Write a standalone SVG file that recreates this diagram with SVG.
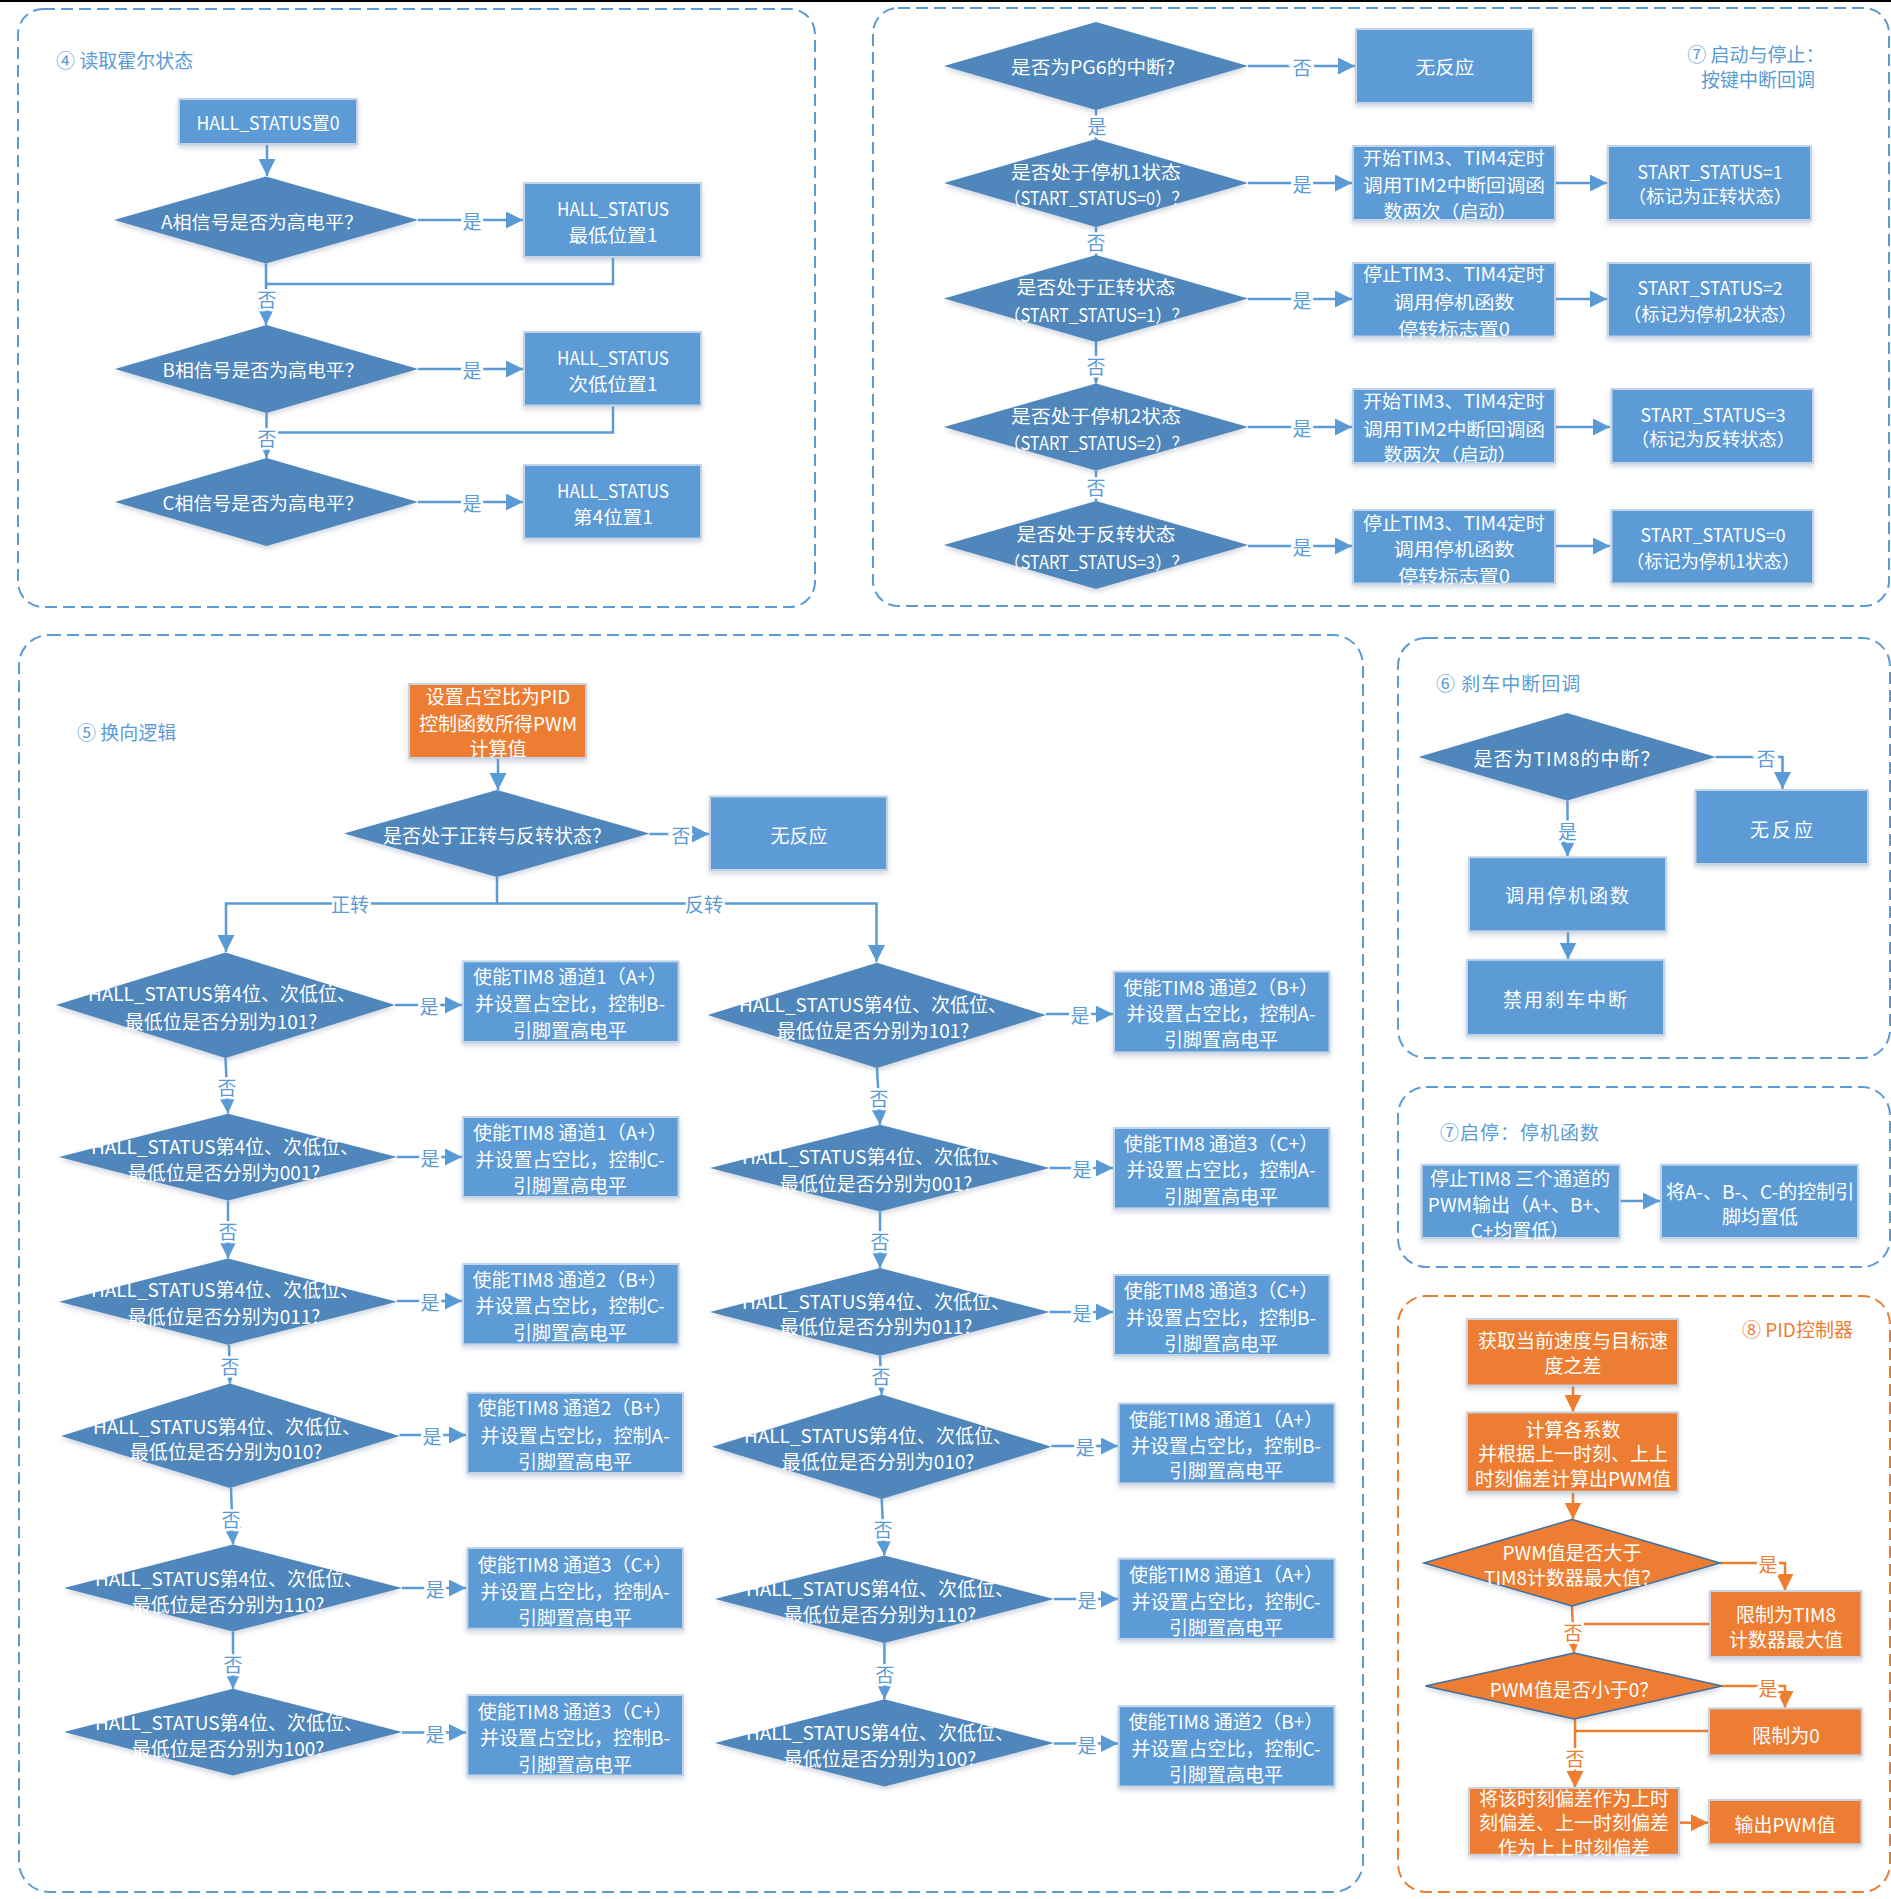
<svg xmlns="http://www.w3.org/2000/svg" width="1891" height="1899" viewBox="0 0 1891 1899">
<defs>
<filter id="sh" x="-10%" y="-10%" width="125%" height="140%">
<feDropShadow dx="0" dy="3" stdDeviation="2.5" flood-color="#7f8fa6" flood-opacity="0.35"/>
</filter>
<marker id="a" viewBox="0 0 10 10" refX="10" refY="5" markerWidth="17" markerHeight="17" markerUnits="userSpaceOnUse" orient="auto"><path d="M0,0 L10,5 L0,10 z" fill="#5B9BD5"/></marker>
<marker id="ao" viewBox="0 0 10 10" refX="10" refY="5" markerWidth="17" markerHeight="17" markerUnits="userSpaceOnUse" orient="auto"><path d="M0,0 L10,5 L0,10 z" fill="#ED7D31"/></marker>
</defs>
<style>
text{font-family:"Noto Sans CJK SC","Noto Sans",sans-serif;dominant-baseline:central}
.frame{fill:none;stroke:#5B9BD5;stroke-width:2;stroke-dasharray:12 6}
.frameO{fill:none;stroke:#ED7D31;stroke-width:2;stroke-dasharray:12 6}
.box{fill:#5B9BD5;stroke:#C3D4E9;stroke-width:2;filter:url(#sh)}
.obox{fill:#ED7D31;stroke:#C9D2DE;stroke-width:2;filter:url(#sh)}
.dia{fill:#4F86BB;filter:url(#sh)}
.odia{fill:#ED7D31;stroke:#3E6FA3;stroke-width:1.5;filter:url(#sh)}
.t{fill:#fff;font-size:19px;text-anchor:middle}
.c{fill:#fff;font-size:18px;text-anchor:middle}
.ttl{fill:#5B9BD5;font-size:19px}
.ottl{fill:#ED7D31;font-size:19px}
.ln{fill:none;stroke:#5B9BD5;stroke-width:2.5}
.oln{fill:none;stroke:#ED7D31;stroke-width:2.5}
.lbl{fill:#5B9BD5;font-size:19px;text-anchor:middle;stroke:#fff;stroke-width:5;paint-order:stroke}
.olbl{fill:#ED7D31;font-size:19px;text-anchor:middle;stroke:#fff;stroke-width:5;paint-order:stroke}
</style>
<rect x="0" y="0" width="1891" height="2" fill="#000"/>

<!-- frames -->
<g id="frames">
<rect class="frame" x="18" y="9" width="797" height="598" rx="25"/>
<rect class="frame" x="873" y="8" width="1016" height="598" rx="25"/>
<rect class="frame" x="19" y="635" width="1344" height="1257" rx="30"/>
<rect class="frame" x="1398" y="638" width="492" height="420" rx="28"/>
<rect class="frame" x="1398" y="1087" width="492" height="180" rx="28"/>
<rect class="frameO" x="1398" y="1296" width="492" height="596" rx="28"/>
<text class="ttl" x="56" y="59">④ 读取霍尔状态</text>
<text class="ttl" x="1756" y="53" text-anchor="middle">⑦ 启动与停止：</text>
<text class="ttl" x="1758" y="78" text-anchor="middle">按键中断回调</text>
<text class="ttl" x="77" y="731">⑤ 换向逻辑</text>
<text class="ttl" x="1436" y="682" letter-spacing="1">⑥ 刹车中断回调</text>
<text class="ttl" x="1440" y="1131" letter-spacing="1">⑦启停：停机函数</text>
<text class="ottl" x="1742" y="1328">⑧ PID控制器</text>
</g>

<!-- connectors -->
<g id="connectors">
<!-- panel 4 -->
<path class="ln" d="M267,144 V176" marker-end="url(#a)"/>
<path class="ln" d="M418,220 H523" marker-end="url(#a)"/>
<path class="ln" d="M613,257 V284 H267"/>
<path class="ln" d="M266,263.5 V325" marker-end="url(#a)"/>
<path class="ln" d="M418,369 H523" marker-end="url(#a)"/>
<path class="ln" d="M613,405.5 V432.5 H267"/>
<path class="ln" d="M266.5,413 V458" marker-end="url(#a)"/>
<path class="ln" d="M418,502 H523" marker-end="url(#a)"/>
<text class="lbl" x="472" y="220">是</text>
<text class="lbl" x="267" y="298">否</text>
<text class="lbl" x="472" y="369">是</text>
<text class="lbl" x="267" y="437">否</text>
<text class="lbl" x="472" y="502">是</text>
<!-- panel 7 -->
<path class="ln" d="M1248,66 H1355" marker-end="url(#a)"/>
<path class="ln" d="M1096,110 V139" marker-end="url(#a)"/>
<path class="ln" d="M1248,183 H1352" marker-end="url(#a)"/>
<path class="ln" d="M1555,183 H1607" marker-end="url(#a)"/>
<path class="ln" d="M1096,227 V255" marker-end="url(#a)"/>
<path class="ln" d="M1248,299 H1352" marker-end="url(#a)"/>
<path class="ln" d="M1555,299 H1607" marker-end="url(#a)"/>
<path class="ln" d="M1096,342 V383.5" marker-end="url(#a)"/>
<path class="ln" d="M1248,427 H1352" marker-end="url(#a)"/>
<path class="ln" d="M1555,427 H1610" marker-end="url(#a)"/>
<path class="ln" d="M1096,470.5 V501" marker-end="url(#a)"/>
<path class="ln" d="M1248,546 H1352" marker-end="url(#a)"/>
<path class="ln" d="M1555,546 H1610" marker-end="url(#a)"/>
<text class="lbl" x="1302" y="66">否</text>
<text class="lbl" x="1097" y="125">是</text>
<text class="lbl" x="1302" y="183">是</text>
<text class="lbl" x="1096" y="241">否</text>
<text class="lbl" x="1302" y="299">是</text>
<text class="lbl" x="1096" y="365">否</text>
<text class="lbl" x="1302" y="427">是</text>
<text class="lbl" x="1096" y="486">否</text>
<text class="lbl" x="1302" y="546">是</text>
<!-- panel 5 -->
<path class="ln" d="M498,758 V790" marker-end="url(#a)"/>
<path class="ln" d="M649.5,834 H709" marker-end="url(#a)"/>
<path class="ln" d="M497,877 V903.5 H226 V952" marker-end="url(#a)"/>
<path class="ln" d="M497,903.5 H876.5 V962" marker-end="url(#a)"/>
<path class="ln" d="M395,1005 H462" marker-end="url(#a)"/>
<path class="ln" d="M225.5,1058 L228,1113.5" marker-end="url(#a)"/>
<path class="ln" d="M397,1157 H462" marker-end="url(#a)"/>
<path class="ln" d="M228,1200.6 V1258.5" marker-end="url(#a)"/>
<path class="ln" d="M397,1301 H462" marker-end="url(#a)"/>
<path class="ln" d="M229,1344.8 L230,1383.5" marker-end="url(#a)"/>
<path class="ln" d="M399.5,1435 H466" marker-end="url(#a)"/>
<path class="ln" d="M231,1488 L233,1544.4" marker-end="url(#a)"/>
<path class="ln" d="M402,1588 H466" marker-end="url(#a)"/>
<path class="ln" d="M233,1631.6 V1688.7" marker-end="url(#a)"/>
<path class="ln" d="M402,1732.5 H466" marker-end="url(#a)"/>
<path class="ln" d="M1046,1014 H1113" marker-end="url(#a)"/>
<path class="ln" d="M877,1068 L880,1124.7" marker-end="url(#a)"/>
<path class="ln" d="M1049.6,1168 H1113" marker-end="url(#a)"/>
<path class="ln" d="M880,1211.6 V1268" marker-end="url(#a)"/>
<path class="ln" d="M1049.6,1312 H1113" marker-end="url(#a)"/>
<path class="ln" d="M880,1355.8 L881.7,1394.5" marker-end="url(#a)"/>
<path class="ln" d="M1051.4,1446 H1118" marker-end="url(#a)"/>
<path class="ln" d="M881.7,1499 L884.4,1555.4" marker-end="url(#a)"/>
<path class="ln" d="M1054,1599 H1118" marker-end="url(#a)"/>
<path class="ln" d="M884.4,1643 V1699.3" marker-end="url(#a)"/>
<path class="ln" d="M1054,1743.5 H1118" marker-end="url(#a)"/>
<text class="lbl" x="681" y="834">否</text>
<text class="lbl" x="350" y="903">正转</text>
<text class="lbl" x="704" y="903">反转</text>
<text class="lbl" x="429" y="1005">是</text>
<text class="lbl" x="227" y="1086">否</text>
<text class="lbl" x="430" y="1157">是</text>
<text class="lbl" x="228" y="1230">否</text>
<text class="lbl" x="430" y="1301">是</text>
<text class="lbl" x="230" y="1365">否</text>
<text class="lbl" x="432" y="1435">是</text>
<text class="lbl" x="231" y="1518">否</text>
<text class="lbl" x="435" y="1588">是</text>
<text class="lbl" x="233" y="1663">否</text>
<text class="lbl" x="435" y="1733">是</text>
<text class="lbl" x="1080" y="1014">是</text>
<text class="lbl" x="879" y="1097">否</text>
<text class="lbl" x="1082" y="1168">是</text>
<text class="lbl" x="880" y="1240">否</text>
<text class="lbl" x="1082" y="1312">是</text>
<text class="lbl" x="881" y="1375">否</text>
<text class="lbl" x="1085" y="1446">是</text>
<text class="lbl" x="883" y="1528">否</text>
<text class="lbl" x="1087" y="1599">是</text>
<text class="lbl" x="885" y="1673">否</text>
<text class="lbl" x="1087" y="1744">是</text>
<!-- panel 6 -->
<path class="ln" d="M1715.7,757 H1782.5 V789" marker-end="url(#a)"/>
<path class="ln" d="M1567.5,800.6 V856.5" marker-end="url(#a)"/>
<path class="ln" d="M1568,931.2 V959.5" marker-end="url(#a)"/>
<path class="ln" d="M1619.6,1201 H1660" marker-end="url(#a)"/>
<text class="lbl" x="1766" y="757">否</text>
<text class="lbl" x="1567.5" y="830">是</text>
<!-- panel 8 -->
<path class="oln" d="M1573,1385.5 V1412" marker-end="url(#ao)"/>
<path class="oln" d="M1573,1491.8 V1519.5" marker-end="url(#ao)"/>
<path class="oln" d="M1720,1563 H1785 V1591" marker-end="url(#ao)"/>
<path class="oln" d="M1710,1624 H1573"/>
<path class="oln" d="M1572,1606 L1574,1653" marker-end="url(#ao)"/>
<path class="oln" d="M1722,1686 H1785 V1708" marker-end="url(#ao)"/>
<path class="oln" d="M1709,1731 H1575"/>
<path class="oln" d="M1575,1719 V1788" marker-end="url(#ao)"/>
<path class="oln" d="M1679,1822.7 H1708" marker-end="url(#ao)"/>
<text class="olbl" x="1768" y="1563">是</text>
<text class="olbl" x="1573" y="1631">否</text>
<text class="olbl" x="1768" y="1687">是</text>
<text class="olbl" x="1575" y="1757">否</text>
</g>

<!-- panel 4 nodes -->
<g id="n4_start"><rect class="box" x="179" y="99" width="178" height="45"/><text class="c" x="268" y="122" textLength="143" lengthAdjust="spacingAndGlyphs">HALL_STATUS置0</text></g>
<g id="n4_da"><polygon class="dia" points="266,176.5 418,220 266,263.5 114,220"/><text class="c" x="262" y="221" textLength="202" lengthAdjust="spacingAndGlyphs">A相信号是否为高电平？</text></g>
<g id="n4_b1"><rect class="box" x="524" y="183" width="177" height="74"/><text class="c" x="613" y="208" textLength="112" lengthAdjust="spacingAndGlyphs">HALL_STATUS</text><text class="c" x="613" y="234" textLength="89" lengthAdjust="spacingAndGlyphs">最低位置1</text></g>
<g id="n4_db"><polygon class="dia" points="266.5,325 418,369 266.5,413 115,369"/><text class="c" x="263" y="369" textLength="201" lengthAdjust="spacingAndGlyphs">B相信号是否为高电平？</text></g>
<g id="n4_b2"><rect class="box" x="524" y="332" width="177" height="73.5"/><text class="c" x="613" y="357" textLength="112" lengthAdjust="spacingAndGlyphs">HALL_STATUS</text><text class="c" x="613" y="383" textLength="89" lengthAdjust="spacingAndGlyphs">次低位置1</text></g>
<g id="n4_dc"><polygon class="dia" points="266.5,458 418,502 266.5,546 115,502"/><text class="c" x="263" y="502" textLength="201" lengthAdjust="spacingAndGlyphs">C相信号是否为高电平？</text></g>
<g id="n4_b3"><rect class="box" x="524" y="465" width="177" height="73.5"/><text class="c" x="613" y="490" textLength="112" lengthAdjust="spacingAndGlyphs">HALL_STATUS</text><text class="c" x="613" y="516" textLength="80" lengthAdjust="spacingAndGlyphs">第4位置1</text></g>

<!-- panel 7 nodes -->
<g id="n7_d1"><polygon class="dia" points="1096,22 1248,66 1096,110 944,66"/><text class="c" x="1093" y="66" textLength="164" lengthAdjust="spacingAndGlyphs">是否为PG6的中断?</text></g>
<g id="n7_none"><rect class="box" x="1356" y="29" width="177" height="74"/><text class="c" x="1445" y="66" textLength="59" lengthAdjust="spacingAndGlyphs">无反应</text></g>
<g id="n7_d2"><polygon class="dia" points="1096,139 1248,183 1096,227 944,183"/><text class="c" x="1096" y="171" textLength="170" lengthAdjust="spacingAndGlyphs">是否处于停机1状态</text><text class="c" x="1096" y="197" textLength="184" lengthAdjust="spacingAndGlyphs">（START_STATUS=0）？</text></g>
<g id="n7_b2a"><rect class="box" x="1353" y="146" width="202" height="74"/><text class="c" x="1454" y="157" textLength="182" lengthAdjust="spacingAndGlyphs">开始TIM3、TIM4定时</text><text class="c" x="1454" y="183.5" textLength="182" lengthAdjust="spacingAndGlyphs">调用TIM2中断回调函</text><text class="c" x="1450" y="210" textLength="133" lengthAdjust="spacingAndGlyphs">数两次（启动）</text></g>
<g id="n7_b2b"><rect class="box" x="1608" y="146" width="203" height="74"/><text class="c" x="1710" y="171" textLength="145" lengthAdjust="spacingAndGlyphs">START_STATUS=1</text><text class="c" x="1710" y="195" textLength="164" lengthAdjust="spacingAndGlyphs">（标记为正转状态）</text></g>
<g id="n7_d3"><polygon class="dia" points="1096,255 1248,298.5 1096,342 944,298.5"/><text class="c" x="1096" y="286" textLength="159" lengthAdjust="spacingAndGlyphs">是否处于正转状态</text><text class="c" x="1096" y="314" textLength="184" lengthAdjust="spacingAndGlyphs">（START_STATUS=1）？</text></g>
<g id="n7_b3a"><rect class="box" x="1353" y="263" width="202" height="73.5"/><text class="c" x="1454" y="273" textLength="182" lengthAdjust="spacingAndGlyphs">停止TIM3、TIM4定时</text><text class="c" x="1454" y="301" textLength="121" lengthAdjust="spacingAndGlyphs">调用停机函数</text><text class="c" x="1454" y="327.5" textLength="112" lengthAdjust="spacingAndGlyphs">停转标志置0</text></g>
<g id="n7_b3b"><rect class="box" x="1608" y="263" width="203" height="73.5"/><text class="c" x="1710" y="287" textLength="145" lengthAdjust="spacingAndGlyphs">START_STATUS=2</text><text class="c" x="1710" y="312.6" textLength="174" lengthAdjust="spacingAndGlyphs">（标记为停机2状态）</text></g>
<g id="n7_d4"><polygon class="dia" points="1096,383.5 1248,427 1096,470.5 944,427"/><text class="c" x="1096" y="415" textLength="170" lengthAdjust="spacingAndGlyphs">是否处于停机2状态</text><text class="c" x="1096" y="442" textLength="184" lengthAdjust="spacingAndGlyphs">（START_STATUS=2）？</text></g>
<g id="n7_b4a"><rect class="box" x="1353" y="389" width="202" height="74"/><text class="c" x="1454" y="400" textLength="182" lengthAdjust="spacingAndGlyphs">开始TIM3、TIM4定时</text><text class="c" x="1454" y="427.5" textLength="182" lengthAdjust="spacingAndGlyphs">调用TIM2中断回调函</text><text class="c" x="1450" y="453" textLength="133" lengthAdjust="spacingAndGlyphs">数两次（启动）</text></g>
<g id="n7_b4b"><rect class="box" x="1611.5" y="389" width="201.5" height="74"/><text class="c" x="1713" y="414" textLength="145" lengthAdjust="spacingAndGlyphs">START_STATUS=3</text><text class="c" x="1713" y="438.4" textLength="164" lengthAdjust="spacingAndGlyphs">（标记为反转状态）</text></g>
<g id="n7_d5"><polygon class="dia" points="1096,501 1248,545 1096,589 944,545"/><text class="c" x="1096" y="533" textLength="159" lengthAdjust="spacingAndGlyphs">是否处于反转状态</text><text class="c" x="1096" y="561" textLength="184" lengthAdjust="spacingAndGlyphs">（START_STATUS=3）？</text></g>
<g id="n7_b5a"><rect class="box" x="1353" y="510" width="202" height="73.5"/><text class="c" x="1454" y="521.6" textLength="182" lengthAdjust="spacingAndGlyphs">停止TIM3、TIM4定时</text><text class="c" x="1454" y="548" textLength="121" lengthAdjust="spacingAndGlyphs">调用停机函数</text><text class="c" x="1454" y="574.5" textLength="112" lengthAdjust="spacingAndGlyphs">停转标志置0</text></g>
<g id="n7_b5b"><rect class="box" x="1611.5" y="510" width="201.5" height="73.5"/><text class="c" x="1713" y="534" textLength="145" lengthAdjust="spacingAndGlyphs">START_STATUS=0</text><text class="c" x="1713" y="560" textLength="174" lengthAdjust="spacingAndGlyphs">（标记为停机1状态）</text></g>

<!-- panel 5 nodes -->
<g id="n5_pid"><rect class="obox" x="409" y="684" width="177" height="74"/><text class="t" x="498" y="695">设置占空比为PID</text><text class="t" x="498" y="722">控制函数所得PWM</text><text class="t" x="498" y="747.5">计算值</text></g>
<g id="n5_dmain"><polygon class="dia" points="497,790 649.5,833.5 497,877 344,833.5"/><text class="t" x="497" y="834">是否处于正转与反转状态？</text></g>
<g id="n5_none"><rect class="box" x="710" y="796.5" width="177" height="73.5"/><text class="t" x="799" y="834">无反应</text></g>

<g id="n5_l1"><polygon class="dia" points="225.5,952.5 395,1005 225.5,1058 56,1005"/><text class="t" x="222" y="992.5">HALL_STATUS第4位、次低位、</text><text class="t" x="221" y="1020">最低位是否分别为101?</text></g>
<g id="n5_lb1"><rect class="box" x="463" y="961.4" width="215.6" height="80.6"/><text class="t" x="570" y="975.7">使能TIM8 通道1（A+）</text><text class="t" x="570" y="1002">并设置占空比，控制B-</text><text class="t" x="570" y="1029">引脚置高电平</text></g>
<g id="n5_l2"><polygon class="dia" points="228,1113.7 397,1157 228,1200.6 59,1157"/><text class="t" x="225" y="1145">HALL_STATUS第4位、次低位、</text><text class="t" x="224" y="1171.6">最低位是否分别为001?</text></g>
<g id="n5_lb2"><rect class="box" x="463" y="1117" width="215.6" height="80"/><text class="t" x="570" y="1131">使能TIM8 通道1（A+）</text><text class="t" x="570" y="1158.6">并设置占空比，控制C-</text><text class="t" x="570" y="1184">引脚置高电平</text></g>
<g id="n5_l3"><polygon class="dia" points="228,1258.6 397,1301.7 228,1344.8 59,1301.7"/><text class="t" x="225" y="1288.5">HALL_STATUS第4位、次低位、</text><text class="t" x="224" y="1315">最低位是否分别为011?</text></g>
<g id="n5_lb3"><rect class="box" x="463" y="1264" width="215.6" height="80.4"/><text class="t" x="570" y="1278.3">使能TIM8 通道2（B+）</text><text class="t" x="570" y="1304.8">并设置占空比，控制C-</text><text class="t" x="570" y="1331.3">引脚置高电平</text></g>
<g id="n5_l4"><polygon class="dia" points="230,1383.5 399.5,1436 230,1488 61,1436"/><text class="t" x="227" y="1425">HALL_STATUS第4位、次低位、</text><text class="t" x="226" y="1450.7">最低位是否分别为010?</text></g>
<g id="n5_lb4"><rect class="box" x="467.4" y="1392.8" width="215.6" height="80.2"/><text class="t" x="575" y="1406.7">使能TIM8 通道2（B+）</text><text class="t" x="575" y="1434.4">并设置占空比，控制A-</text><text class="t" x="575" y="1460.5">引脚置高电平</text></g>
<g id="n5_l5"><polygon class="dia" points="233,1544.4 402,1588 233,1631.6 64,1588"/><text class="t" x="229" y="1577">HALL_STATUS第4位、次低位、</text><text class="t" x="228" y="1603.5">最低位是否分别为110?</text></g>
<g id="n5_lb5"><rect class="box" x="467.4" y="1548" width="215.6" height="80.8"/><text class="t" x="575" y="1563.6">使能TIM8 通道3（C+）</text><text class="t" x="575" y="1590">并设置占空比，控制A-</text><text class="t" x="575" y="1616.6">引脚置高电平</text></g>
<g id="n5_l6"><polygon class="dia" points="233,1688.7 402,1732 233,1775.5 64,1732"/><text class="t" x="229" y="1721.3">HALL_STATUS第4位、次低位、</text><text class="t" x="228" y="1747">最低位是否分别为100?</text></g>
<g id="n5_lb6"><rect class="box" x="467.4" y="1695" width="215.6" height="80.5"/><text class="t" x="575" y="1710">使能TIM8 通道3（C+）</text><text class="t" x="575" y="1736.8">并设置占空比，控制B-</text><text class="t" x="575" y="1763">引脚置高电平</text></g>

<g id="n5_r1"><polygon class="dia" points="877,962.7 1046,1015 877,1068 707.7,1015"/><text class="t" x="873" y="1003.5">HALL_STATUS第4位、次低位、</text><text class="t" x="873" y="1029">最低位是否分别为101?</text></g>
<g id="n5_rb1"><rect class="box" x="1114" y="971.6" width="215.5" height="80.8"/><text class="t" x="1221" y="986.3">使能TIM8 通道2（B+）</text><text class="t" x="1221" y="1012.4">并设置占空比，控制A-</text><text class="t" x="1221" y="1038">引脚置高电平</text></g>
<g id="n5_r2"><polygon class="dia" points="880,1124.7 1049.6,1168 880,1211.6 710,1168"/><text class="t" x="876" y="1155">HALL_STATUS第4位、次低位、</text><text class="t" x="876" y="1182">最低位是否分别为001?</text></g>
<g id="n5_rb2"><rect class="box" x="1114" y="1128" width="215.5" height="80.4"/><text class="t" x="1221" y="1142">使能TIM8 通道3（C+）</text><text class="t" x="1221" y="1168.8">并设置占空比，控制A-</text><text class="t" x="1221" y="1195.3">引脚置高电平</text></g>
<g id="n5_r3"><polygon class="dia" points="880,1268 1049.6,1312 880,1355.8 710,1312"/><text class="t" x="876" y="1300">HALL_STATUS第4位、次低位、</text><text class="t" x="876" y="1325.2">最低位是否分别为011?</text></g>
<g id="n5_rb3"><rect class="box" x="1114" y="1275" width="215.5" height="80"/><text class="t" x="1221" y="1289.3">使能TIM8 通道3（C+）</text><text class="t" x="1221" y="1316.2">并设置占空比，控制B-</text><text class="t" x="1221" y="1342.3">引脚置高电平</text></g>
<g id="n5_r4"><polygon class="dia" points="881.7,1394.5 1051.4,1446.8 881.7,1499 712,1446.8"/><text class="t" x="878" y="1434.4">HALL_STATUS第4位、次低位、</text><text class="t" x="878" y="1460.5">最低位是否分别为010?</text></g>
<g id="n5_rb4"><rect class="box" x="1118.8" y="1403.4" width="215.7" height="80"/><text class="t" x="1226" y="1418">使能TIM8 通道1（A+）</text><text class="t" x="1226" y="1444.2">并设置占空比，控制B-</text><text class="t" x="1226" y="1469.9">引脚置高电平</text></g>
<g id="n5_r5"><polygon class="dia" points="884.4,1555.4 1054,1599 884.4,1643 714.8,1599"/><text class="t" x="880" y="1587.2">HALL_STATUS第4位、次低位、</text><text class="t" x="880" y="1613">最低位是否分别为110?</text></g>
<g id="n5_rb5"><rect class="box" x="1118.8" y="1558.7" width="215.7" height="80.3"/><text class="t" x="1226" y="1573.8">使能TIM8 通道1（A+）</text><text class="t" x="1226" y="1600.3">并设置占空比，控制C-</text><text class="t" x="1226" y="1626.7">引脚置高电平</text></g>
<g id="n5_r6"><polygon class="dia" points="884.4,1699.3 1054,1743 884.4,1786.5 714.8,1743"/><text class="t" x="880" y="1731.9">HALL_STATUS第4位、次低位、</text><text class="t" x="880" y="1757.2">最低位是否分别为100?</text></g>
<g id="n5_rb6"><rect class="box" x="1118.8" y="1706.2" width="215.7" height="80.3"/><text class="t" x="1226" y="1720.5">使能TIM8 通道2（B+）</text><text class="t" x="1226" y="1747">并设置占空比，控制C-</text><text class="t" x="1226" y="1773.4">引脚置高电平</text></g>

<!-- panel 6 nodes -->
<g id="n6_d"><polygon class="dia" points="1567,713 1715.7,757 1567,800.6 1418.5,757"/><text class="t" x="1567" y="757" letter-spacing="1">是否为TIM8的中断？</text></g>
<g id="n6_none"><rect class="box" x="1695.5" y="790" width="172.5" height="74"/><text class="t" x="1783" y="828" letter-spacing="3">无反应</text></g>
<g id="n6_call"><rect class="box" x="1469" y="857.3" width="197" height="74"/><text class="t" x="1568" y="894.5" letter-spacing="2">调用停机函数</text></g>
<g id="n6_dis"><rect class="box" x="1467" y="959.8" width="197" height="75.2"/><text class="t" x="1566" y="998" letter-spacing="2">禁用刹车中断</text></g>

<!-- panel 7b nodes -->
<g id="n7b_a"><rect class="box" x="1421.7" y="1164.7" width="198" height="73.3"/><text class="t" x="1520" y="1177">停止TIM8 三个通道的</text><text class="t" x="1520" y="1203.5">PWM输出（A+、B+、</text><text class="t" x="1520" y="1229">C+均置低）</text></g>
<g id="n7b_b"><rect class="box" x="1661" y="1164.7" width="197" height="73.3"/><text class="t" x="1760" y="1190">将A-、B-、C-的控制引</text><text class="t" x="1760" y="1215.7">脚均置低</text></g>

<!-- panel 8 nodes -->
<g id="n8_o1"><rect class="obox" x="1467" y="1319" width="211" height="66.5"/><text class="t" x="1573" y="1339">获取当前速度与目标速</text><text class="t" x="1573" y="1364.3">度之差</text></g>
<g id="n8_o2"><rect class="obox" x="1467" y="1412.4" width="211" height="79.4"/><text class="t" x="1573" y="1428.4">计算各系数</text><text class="t" x="1573" y="1452.5">并根据上一时刻、上上</text><text class="t" x="1573" y="1477.8">时刻偏差计算出PWM值</text></g>
<g id="n8_d1"><polygon class="odia" points="1572,1519.5 1720,1563 1572,1606 1424,1563"/><text class="t" x="1572" y="1551.6">PWM值是否大于</text><text class="t" x="1572" y="1576.9">TIM8计数器最大值？</text></g>
<g id="n8_o3"><rect class="obox" x="1710" y="1591" width="151.4" height="66"/><text class="t" x="1786" y="1613">限制为TIM8</text><text class="t" x="1786" y="1638.2">计数器最大值</text></g>
<g id="n8_d2"><polygon class="odia" points="1574,1653 1722,1686 1574,1719 1425.6,1686"/><text class="t" x="1574" y="1688">PWM值是否小于0？</text></g>
<g id="n8_o4"><rect class="obox" x="1709" y="1708.4" width="152.7" height="47"/><text class="t" x="1786" y="1734">限制为0</text></g>
<g id="n8_o5"><rect class="obox" x="1469" y="1788" width="210" height="66.8"/><text class="t" x="1574" y="1797.5">将该时刻偏差作为上时</text><text class="t" x="1574" y="1821.5">刻偏差、上一时刻偏差</text><text class="t" x="1574" y="1846.8">作为上上时刻偏差</text></g>
<g id="n8_o6"><rect class="obox" x="1709" y="1800" width="152.4" height="44.4"/><text class="t" x="1785" y="1823.5">输出PWM值</text></g>
</svg>
